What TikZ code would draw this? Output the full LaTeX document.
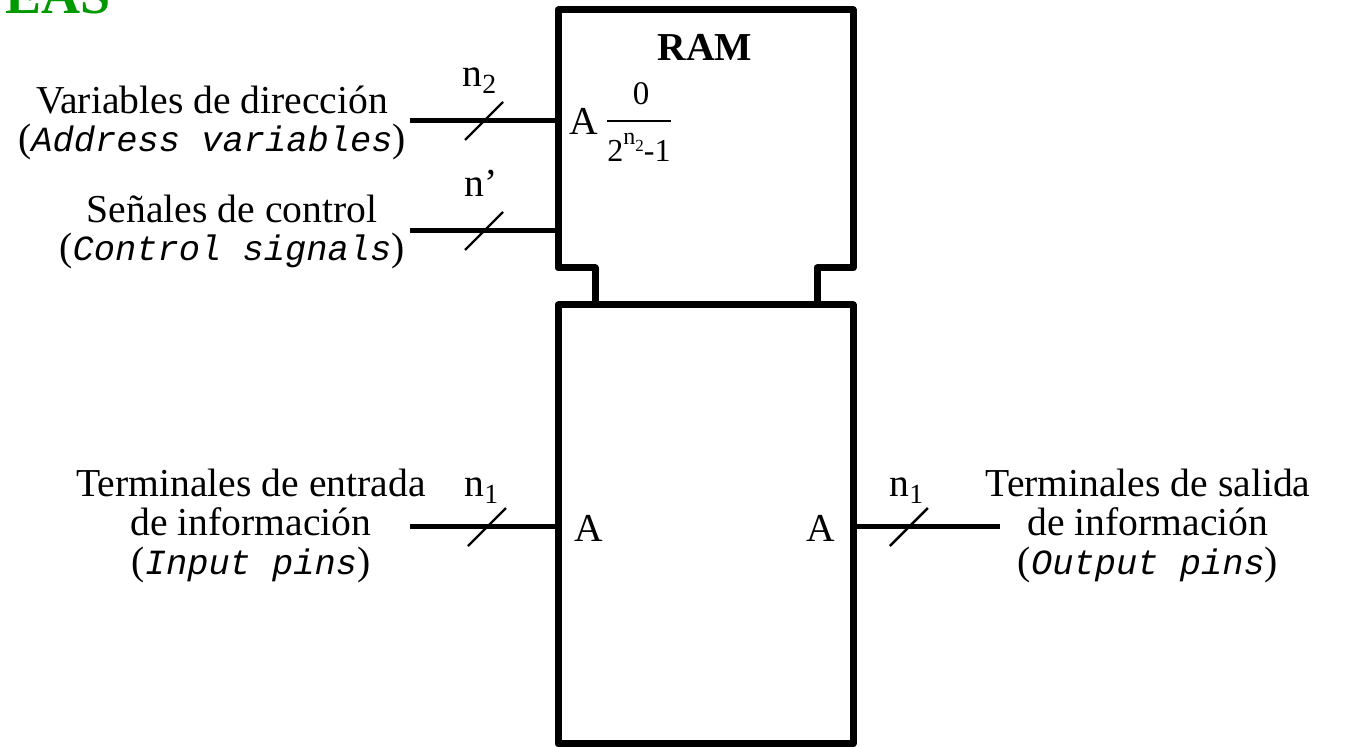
\documentclass[tikz,border=0pt]{standalone}
\usepackage{fontspec}
\setmainfont{Liberation Serif}
\setmonofont{Liberation Mono}
\usepackage{tikz}
\usetikzlibrary{positioning}
\usetikzlibrary{calc}

\definecolor{titlegreen}{RGB}{0,153,0}
\newcommand{\eng}[1]{{\fontsize{17.7}{19.3}\selectfont\ttfamily\itshape #1}}

\begin{document}
\begin{tikzpicture}[x=0.5pt, y=-0.5pt, every node/.style={inner sep=0pt, font=\fontsize{19.8}{19.3}\selectfont},
    blk/.style={line width=3.5pt, line join=round},
    wire/.style={line width=2.5pt},
    tick/.style={line width=1.2pt}]
          \useasboundingbox (0,0) rectangle (1345,747);

          \node[anchor=base east, text=titlegreen, font=\fontsize{27}{27}\selectfont\bfseries] (title) at (111,14) {EAS};

          \draw[blk] (595,305) -- (595,268) -- (558,268) -- (558,10) -- (853,10) -- (853,268) -- (817,268) -- (817,305);
          \draw[blk] (558,305) rectangle (853,744);

          \node[font=\fontsize{19.8}{19.3}\selectfont\bfseries] (ram) at (705,47) {RAM};
          \node (aaddr) at (584,121) {A};
          \node[font=\fontsize{16.5}{16}\selectfont] (fnum) at (641,94) {0};
          \node[anchor=base, font=\fontsize{16}{16}\selectfont] (fden) at (639,162) {2\raisebox{0.55em}{\fontsize{12}{12}\selectfont n\raisebox{-0.3em}{\fontsize{8.5}{8.5}\selectfont 2}}-1};
          \coordinate (bar) at (640,121);
          \draw[line width=1pt] (fden.west |- bar) -- (fden.east |- bar);
          \node (ain) at (589,528) {A};
          \node (aout) at (821,528) {A};

          \coordinate (addrin) at (410,121);
          \coordinate (addrpin) at (558,121);
          \coordinate (ctrlin) at (410,231);
          \coordinate (ctrlpin) at (558,231);
          \coordinate (datain) at (410,527);
          \coordinate (datapin) at (558,527);
          \coordinate (outpin) at (853,527);
          \coordinate (dataout) at (1000,527);

          \draw[wire] (addrin) -- (addrpin);
          \draw[tick] ($(addrin)!0.5!(addrpin)$) +(-19,19) -- +(19,-19);
          \draw[wire] (ctrlin) -- (ctrlpin);
          \draw[tick] ($(ctrlin)!0.5!(ctrlpin)$) +(-19,19) -- +(19,-19);
          \draw[wire] (datain) -- (datapin);
          \draw[tick] ($(datain)!0.52!(datapin)$) +(-19,19) -- +(19,-19);
          \draw[wire] (outpin) -- (dataout);
          \draw[tick] ($(outpin)!0.38!(dataout)$) +(-19,19) -- +(19,-19);

          \node[anchor=base] (naddr) at (480,87) {n\textsubscript{2}};
          \node[anchor=base] (nctrl) at (481,197) {n’};
          \node[anchor=base] (nin) at (482,497) {n\textsubscript{1}};
          \node[anchor=base] (nout) at (907,497) {n\textsubscript{1}};

          \node[align=center] (addrtxt) at (212,123) {Variables de dirección\\(\eng{Address variables})};
          \node[align=center] (ctrltxt) at (232,232) {Señales de control\\(\eng{Control signals})};
          \node[align=center] (intxt) at (251,526) {Terminales de entrada\\de información\\(\eng{Input pins})};
          \node[align=center] (outtxt) at (1148,526) {Terminales de salida\\de información\\(\eng{Output pins})};
        \end{tikzpicture}
\end{document}
